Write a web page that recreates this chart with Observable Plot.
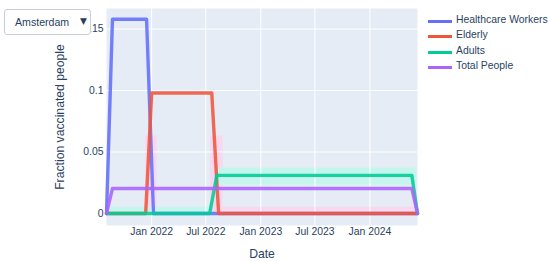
<!DOCTYPE html>
<html><head><meta charset="utf-8">
<script src="https://cdn.jsdelivr.net/npm/d3@7"></script>
<script src="https://cdn.jsdelivr.net/npm/@observablehq/plot@0.6"></script>
<style>
body{margin:0;background:#fff;}
#wrap{position:relative;width:550px;height:261px;font-family:"Liberation Sans",Arial,sans-serif;color:#2a3f5f;}
#chart svg{display:block;}
#dropdown{position:absolute;left:4px;top:9px;width:85px;height:24px;border:1px solid #c8ced9;border-radius:3px;background:#fff;font-size:10.6px;}
#dropdown .lab{position:absolute;left:10px;top:6px;}
#dropdown .arr{position:absolute;left:75px;top:6px;font-size:9px;font-family:"DejaVu Sans",sans-serif;}
#legend{position:absolute;left:428px;top:13px;font-size:10.4px;}
#legend .item{position:absolute;left:0;height:16px;white-space:nowrap;}
#legend .sw{position:absolute;left:0;top:7px;width:24px;height:3px;}
#legend .tx{position:absolute;left:28px;top:1px;}
</style></head>
<body>
<div id="wrap">
  <div id="chart"></div>
  <div id="dropdown"><span class="lab">Amsterdam</span><span class="arr">▼</span></div>
  <div id="legend"></div>
</div>
<script>
const seriesNames = ["Healthcare Workers", "Elderly", "Adults", "Total People"];
const seriesColors = ["#636efa", "#EF553B", "#00cc96", "#ab63fa"];

const healthcareDates = ["2021-08-03", "2021-08-23", "2021-12-15", "2022-01-07", "2024-06-08"];
const healthcareValues = [0, 0.158, 0.158, 0, 0];
const elderlyDates = ["2021-08-03", "2021-12-12", "2022-01-01", "2022-07-21", "2022-08-13", "2024-06-08"];
const elderlyValues = [0, 0, 0.098, 0.098, 0, 0];
const adultsDates = ["2021-08-03", "2022-07-14", "2022-08-07", "2024-05-20", "2024-06-08"];
const adultsValues = [0, 0, 0.031, 0.031, 0];
const totalDates = ["2021-08-03", "2021-08-23", "2024-05-20", "2024-06-08"];
const totalValues = [0, 0.0203, 0.0203, 0];

const xTickDates = ["2022-01-01", "2022-07-01", "2023-01-01", "2023-07-01", "2024-01-01"];
const yTicks = [0, 0.05, 0.1, 0.15];
const xDomain = ["2021-08-03", "2024-06-08"];
const yDomain = [-0.0098, 0.1667];

// faint shaded bands seen behind the lines
const pinkBands = {x1: ["2021-12-12", "2022-07-17", "2022-08-20"], x2: ["2022-01-19", "2022-08-28", "2024-06-05"], y1: [0, 0, 0], y2: [0.063, 0.063, 0.005]};
const cyanBands = {x1: ["2022-08-01", "2021-08-03"], x2: ["2024-06-05", "2022-07-17"], y1: [0.023, 0], y2: [0.037, 0.005]};

const rows = [];
function addSeries(name, dates, values) {
  dates.forEach((d, i) => rows.push({series: name, date: new Date(d), value: values[i]}));
}
addSeries(seriesNames[0], healthcareDates, healthcareValues);
addSeries(seriesNames[1], elderlyDates, elderlyValues);
addSeries(seriesNames[2], adultsDates, adultsValues);
addSeries(seriesNames[3], totalDates, totalValues);

function bandRows(b) {
  return b.x1.map((x, i) => ({x1: new Date(x), x2: new Date(b.x2[i]), y1: b.y1[i], y2: b.y2[i]}));
}
const xTicks = xTickDates.map(d => new Date(d));

const chart = Plot.plot({
  width: 550, height: 261,
  marginLeft: 106, marginRight: 133, marginTop: 8, marginBottom: 36,
  style: {fontFamily: '"Liberation Sans", Arial, sans-serif', fontSize: "10.4px", color: "#2a3f5f", background: "transparent"},
  x: {type: "utc", domain: xDomain.map(d => new Date(d))},
  y: {domain: yDomain},
  color: {domain: seriesNames, range: seriesColors},
  marks: [
    Plot.frame({fill: "#E5ECF6", stroke: null}),
    Plot.rect(bandRows(pinkBands), {x1: "x1", x2: "x2", y1: "y1", y2: "y2", fill: "#fad6ee", fillOpacity: 0.9}),
    Plot.rect(bandRows(cyanBands), {x1: "x1", x2: "x2", y1: "y1", y2: "y2", fill: "#c0f7ec", fillOpacity: 0.9}),
    Plot.gridX(xTicks, {stroke: "white", strokeOpacity: 1, strokeWidth: 1}),
    Plot.gridY(yTicks, {stroke: "white", strokeOpacity: 1, strokeWidth: 1}),
    Plot.axisX(xTicks, {tickSize: 0, tickPadding: 2, tickFormat: d3.utcFormat("%b %Y"), label: null}),
    Plot.axisY(yTicks, {tickSize: 0, tickPadding: 3, tickFormat: d => String(d), label: null}),
    Plot.line(rows, {x: "date", y: "value", z: "series", stroke: "series", strokeWidth: 3.4, strokeOpacity: 0.88}),
    Plot.text(["Fraction vaccinated people"], {text: d => d, frameAnchor: "left", textAnchor: "middle", dx: -46, rotate: -90, fontSize: 12.2}),
    Plot.text(["Date"], {text: d => d, frameAnchor: "bottom", dy: 32, fontSize: 12.2})
  ]
});
document.getElementById("chart").appendChild(chart);

const legend = document.getElementById("legend");
const rowTops = [0, 15.4, 30.8, 46.2];
seriesNames.forEach((name, i) => {
  const item = document.createElement("div");
  item.className = "item";
  item.style.top = rowTops[i] + "px";
  item.innerHTML = `<span class="sw" style="background:${seriesColors[i]}"></span><span class="tx">${name}</span>`;
  legend.appendChild(item);
});
</script>
</body></html>
